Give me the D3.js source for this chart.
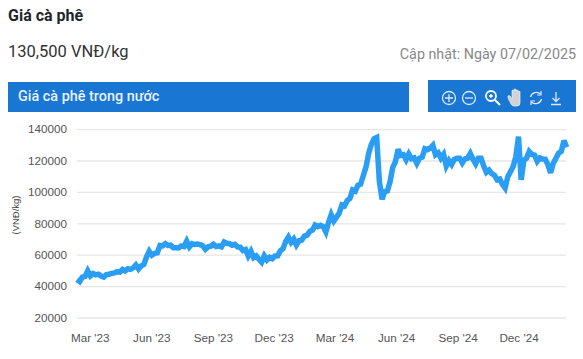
<!DOCTYPE html>
<html>
<head>
<meta charset="utf-8">
<script src="https://cdnjs.cloudflare.com/ajax/libs/d3/7.8.5/d3.min.js"></script>
<style>
    body { margin: 0; background: #fff; }
    svg { display: block; }
    text { font-family: Roboto, sans-serif; }
    .axis text { font-family: "Liberation Sans", Arial, sans-serif; font-size: 11.7px; fill: #555; }
</style>
</head>
<body>
<svg width="583" height="359"></svg>
<script>
const startDate = new Date(2023, 1, 7);
const stepDays = 4; // one reading every 4 days
const prices = [
    44500, 43200, 46000, 46500, 50000, 46800, 48300, 47500, 47900, 46700,
    46100, 47700, 47900, 48400, 48700, 49500, 49200, 50900, 50000, 51400,
    51000, 51900, 53800, 51200, 53200, 54200, 58900, 62500, 60000, 61200,
    61500, 66200, 66000, 67400, 66200, 66400, 64800, 64800, 64600, 65900,
    65500, 69000, 65300, 67300, 66800, 67100, 66700, 66000, 63800, 65300,
    65700, 67000, 65500, 65900, 65300, 68400, 67600, 67400, 66300, 66900,
    65300, 65100, 63000, 63600, 59500, 62500, 58500, 59600, 57400, 55500,
    59600, 57000, 58600, 57800, 59500, 59600, 62800, 64200, 68800, 71500,
    68200, 70300, 66500, 69200, 69600, 72200, 72800, 75200, 76000, 79200,
    78200, 79000, 78200, 74800, 80800, 85800, 81800, 84200, 86800, 92000,
    91500, 94800, 96200, 101500, 100800, 104600, 105200, 110800, 116200, 124800,
    130500, 134200, 135000, 107000, 95500, 100600, 101000, 106800, 116000, 119600,
    127500, 123500, 124000, 120800, 124500, 121500, 122000, 118500, 121800, 122400,
    127800, 127200, 128200, 130000, 124000, 125200, 121800, 124200, 116800, 120200,
    117800, 121000, 121800, 121800, 118800, 121400, 121800, 124800, 121200, 118200,
    121800, 121800, 116800, 112800, 114200, 112000, 111000, 108000, 108500, 105200,
    102800, 110000, 113200, 116500, 122800, 135500, 108000, 120500, 121800, 126000,
    124200, 123800, 119800, 122000, 121300, 121200, 117600, 112500, 118500, 121800,
    125000, 126200, 133000, 128800
];
const yTicks = [20000, 40000, 60000, 80000, 100000, 120000, 140000];
const xTicks = [
    new Date(2023, 2, 1), new Date(2023, 5, 1), new Date(2023, 8, 1), new Date(2023, 11, 1),
    new Date(2024, 2, 1), new Date(2024, 5, 1), new Date(2024, 8, 1), new Date(2024, 11, 1)
];

const series = prices.map((v, i) => ({ date: d3.timeDay.offset(startDate, i * stepDays), value: v }));
const svg = d3.select("svg");

// Header
svg.append("text").attr("x", 8).attr("y", 21)
    .style("font-size", "16px").style("font-weight", "700").attr("fill", "#212529")
    .text("Giá cà phê");
svg.append("text").attr("x", 8).attr("y", 57)
    .style("font-size", "16.5px").attr("fill", "#333")
    .text("130,500 VNĐ/kg");
svg.append("text").attr("x", 576).attr("y", 59).attr("text-anchor", "end")
    .style("font-size", "14.3px").attr("fill", "#888")
    .text("Cập nhật: Ngày 07/02/2025");

svg.append("rect").attr("x", 8).attr("y", 82).attr("width", 401).attr("height", 30).attr("fill", "#1976d2");
svg.append("text").attr("x", 18).attr("y", 101)
    .style("font-size", "14.4px").style("font-weight", "500").attr("fill", "#e8f1fb")
    .text("Giá cà phê trong nước");

// Toolbar
svg.append("rect").attr("x", 428).attr("y", 80).attr("width", 148).attr("height", 32).attr("fill", "#1976d2");
const icons = svg.append("g").attr("fill", "none").attr("stroke", "#dfe9f5").attr("stroke-width", 1.3);
icons.append("circle").attr("cx", 449).attr("cy", 98).attr("r", 6.5);
icons.append("path").attr("d", "M445 98h8M449 94v8");
icons.append("circle").attr("cx", 469).attr("cy", 98).attr("r", 6.5);
icons.append("path").attr("d", "M465 98h8");
icons.append("circle").attr("cx", 491).attr("cy", 96).attr("r", 5).attr("stroke", "#fff").attr("stroke-width", 1.8);
icons.append("path").attr("d", "M489 96h4M491 94v4").attr("stroke", "#fff");
icons.append("path").attr("d", "M495 100l5 5").attr("stroke", "#fff").attr("stroke-width", 2);
icons.append("path")
    .attr("d", "M508 98l3 6q1 2 3 2h3q3 0 3-3v-11q0-1-1-1t-1 1v-1q0-1-1-1t-1 1v-1q0-1-1-1t-1 1v1q0-1-1-1t-1 1v8l-2-3q-1-1-2 0z")
    .attr("fill", "#cfd3d8").attr("stroke", "#eef0f2").attr("stroke-width", 0.7);
icons.append("path").attr("d", "M530.5 97a6 6 0 0 1 10-3M541.5 99a6 6 0 0 1-10 3");
icons.append("path").attr("d", "M541 91v4h-4M531 105v-4h4").attr("stroke-width", 1.2);
icons.append("path").attr("d", "M556 92v9M552.5 98l3.5 3.5 3.5-3.5M551 104.5h10");

// Chart
const x = d3.scaleTime()
    .domain([startDate, new Date(2025, 1, 7)])
    .range([77, 566]);
const y = d3.scaleLinear()
    .domain([20000, 140000])
    .range([318, 129.6]);

svg.append("g")
    .selectAll("line")
    .data(yTicks)
    .join("line")
    .attr("x1", 77)
    .attr("x2", 566)
    .attr("y1", d => y(d))
    .attr("y2", d => y(d))
    .attr("stroke", "#e6e6e6")
    .attr("stroke-width", 1.3);

svg.append("g")
    .attr("class", "axis")
    .attr("transform", "translate(67,-0.5)")
    .call(d3.axisLeft(y).tickValues(yTicks).tickSize(0).tickPadding(0).tickFormat(d => d))
    .call(g => g.select(".domain").remove());

svg.append("g")
    .attr("class", "axis")
    .attr("transform", "translate(-2,329)")
    .call(d3.axisBottom(x).tickValues(xTicks).tickSize(0).tickPadding(5).tickFormat(d3.timeFormat("%b '%y")))
    .call(g => g.select(".domain").remove());

svg.append("text")
    .attr("text-anchor", "middle")
    .attr("transform", "translate(19,215) rotate(-90)")
    .style("font-family", "'Liberation Sans', Arial, sans-serif")
    .style("font-size", "9.5px")
    .attr("fill", "#444")
    .text("(VNĐ/kg)");

const line = d3.line()
    .x(d => x(d.date))
    .y(d => y(d.value));

svg.append("path")
    .datum(series)
    .attr("fill", "none")
    .attr("stroke", "#2a9df4")
    .attr("stroke-width", 5.5)
    .attr("stroke-linejoin", "miter")
    .attr("stroke-miterlimit", 3)
    .attr("d", line);
</script>
</body>
</html>
